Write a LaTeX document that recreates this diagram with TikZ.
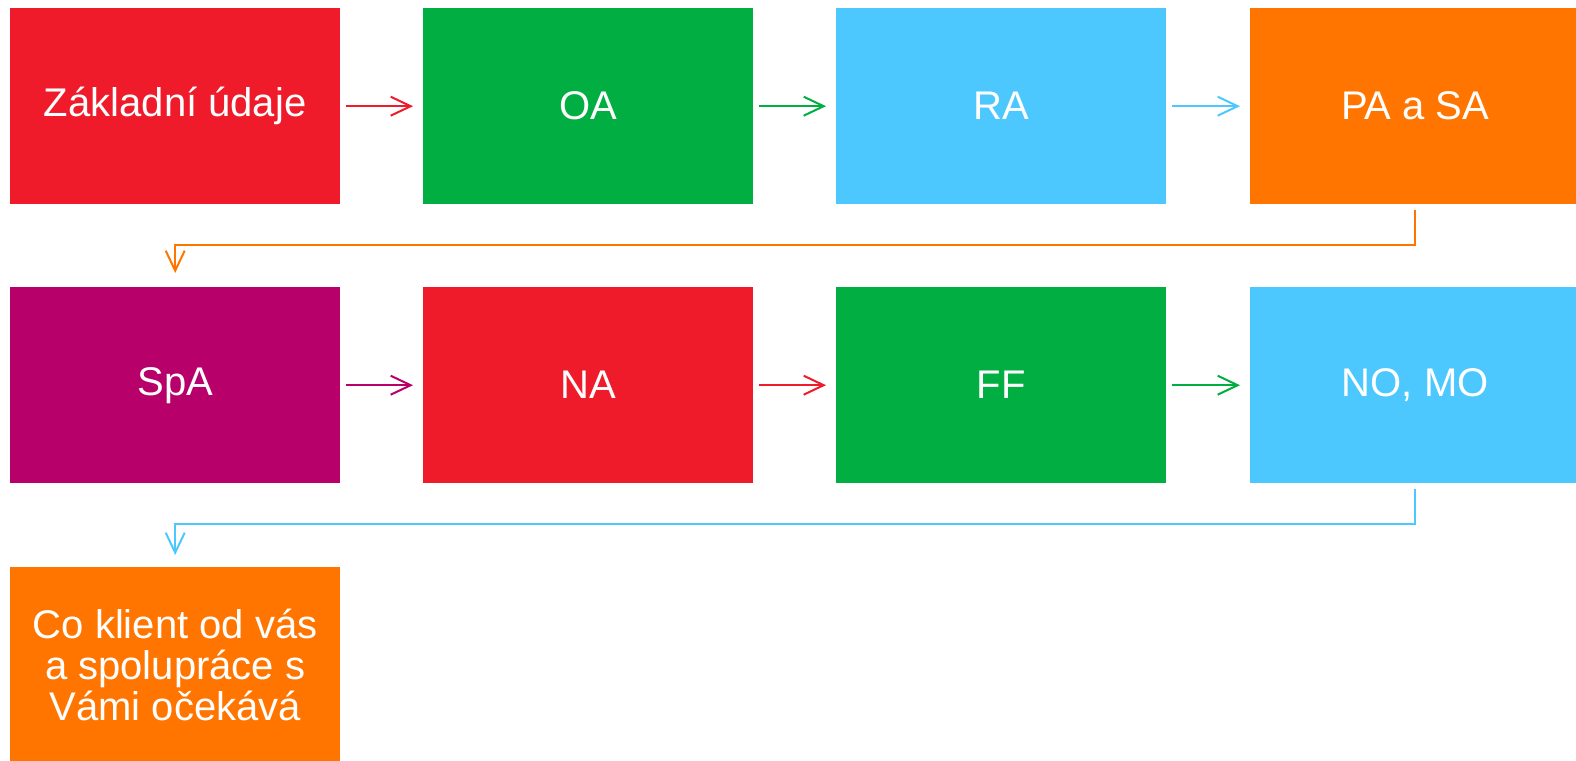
\documentclass[tikz,border=0pt]{standalone}
\usepackage{fontspec}
\setmainfont{Liberation Sans}
\usetikzlibrary{arrows.meta,calc}
\definecolor{cred}{HTML}{EF1B2B}
\definecolor{cgreen}{HTML}{00AE41}
\definecolor{cblue}{HTML}{4DC8FF}
\definecolor{corange}{HTML}{FF7500}
\definecolor{cpurple}{HTML}{B8006B}
\tikzset{
  box/.style={fill=#1, draw=none, anchor=north west, minimum width=330pt, minimum height=196pt,
    inner sep=0pt, text=white, align=center, font=\fontsize{40}{41}\selectfont},
  arr/.style={draw=#1, line width=2pt, -{Straight Barb[length=20pt,width=19pt,line width=2pt]}},
}
\begin{document}
\begin{tikzpicture}[x=1pt,y=-1pt]
\useasboundingbox (0,0) rectangle (1576,760);
\clip (0,0) rectangle (1576,760);
\node[box=cred]    (a) at (10,8)   {Základní údaje};
\node[box=cgreen]  (b) at (423,8)  {OA};
\node[box=cblue]   (c) at (836,8)  {RA};
\node[box=corange] (d) at (1250,8) {PA a SA};
\node[box=cpurple] (e) at (10,287)   {SpA};
\node[box=cred]    (f) at (423,287)  {NA};
\node[box=cgreen]  (g) at (836,287)  {FF};
\node[box=cblue]   (h) at (1250,287) {NO, MO};
\node[box=corange] (i) at (10,567)   {Co klient od vás\\a spolupráce s\\Vámi očekává};
\draw[arr=cred]    ([xshift=6pt]a.east) -- ([xshift=-10pt]b.west);
\draw[arr=cgreen]  ([xshift=6pt]b.east) -- ([xshift=-10pt]c.west);
\draw[arr=cblue]   ([xshift=6pt]c.east) -- ([xshift=-10pt]d.west);
\draw[arr=cpurple] ([xshift=6pt]e.east) -- ([xshift=-10pt]f.west);
\draw[arr=cred]    ([xshift=6pt]f.east) -- ([xshift=-10pt]g.west);
\draw[arr=cgreen]  ([xshift=6pt]g.east) -- ([xshift=-10pt]h.west);
\draw[arr=corange] ([yshift=-6pt]d.south) -- ++(0,35) -| ([yshift=14pt]e.north);
\draw[arr=cblue]   ([yshift=-6pt]h.south) -- ++(0,35) -| ([yshift=12pt]i.north);
\end{tikzpicture}
\end{document}
